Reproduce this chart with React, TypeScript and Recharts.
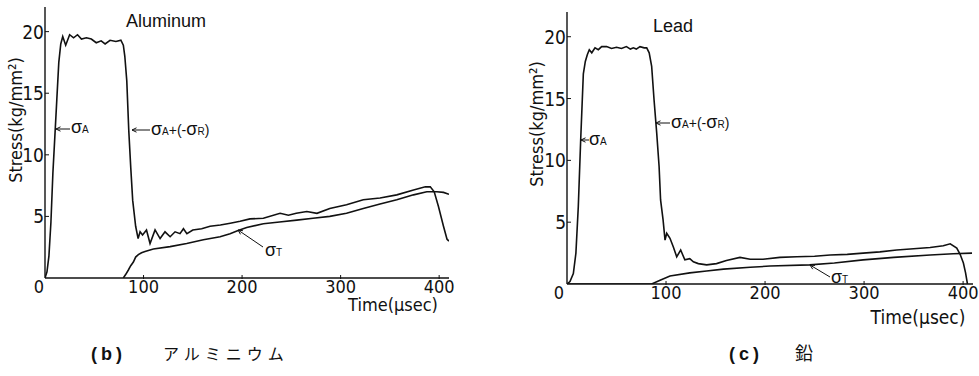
import React from 'react';
import { LineChart, Line, XAxis, YAxis } from 'recharts';

// time axis (usec) and stress axis (kg/mm2) ticks
const timeTicks = [0, 100, 200, 300, 400];
const stressTicks = [5, 10, 15, 20];

// (b) Aluminum: sigma_A + (-sigma_R)
const alUpperTime = [
  0, 2, 4, 6, 8, 10, 12, 14, 16, 18, 21, 25, 29, 33, 37, 42, 47, 52, 57, 61, 66, 72, 77, 79.5, 81, 83, 85, 87,
  89, 92, 94.5, 96.5, 99, 103, 106.6, 111.7, 116.8, 121.8, 127, 132, 137, 140.5, 144, 150, 159, 167.5, 178, 188,
  198, 208, 221.6, 238.6, 247, 255, 265.7, 276, 289, 306, 323, 340, 357, 374, 386, 391, 395, 399.3, 404.4, 408, 410,
];
const alUpperStress = [
  0, 0.5, 1.8, 4.5, 8.5, 11.5, 14.5, 17.5, 19.0, 19.6, 18.9, 19.75, 19.5, 19.75, 19.4, 19.5, 19.4, 19.1, 19.25, 19.0,
  19.3, 19.2, 19.3, 18.9, 18.0, 16.0, 12.0, 9.0, 6.3, 4.2, 3.2, 3.75, 3.5, 3.9, 2.8, 3.9, 3.2, 3.75, 3.35, 3.75,
  3.6, 4.0, 3.6, 3.9, 4.0, 4.2, 4.3, 4.45, 4.6, 4.8, 4.85, 5.25, 5.1, 5.25, 5.4, 5.25, 5.65, 5.95, 6.35, 6.5, 6.75,
  7.15, 7.4, 7.4, 7.0, 5.8, 4.2, 3.15, 3.0,
];

// (b) Aluminum: sigma_T
const alLowerTime = [
  79.5, 82, 84.6, 87, 89.7, 92, 94.7, 98, 101.5, 110, 127, 143.8, 160.7, 177.7, 187.8, 196, 204.7, 221.6, 238,
  255.5, 272, 289, 306, 323, 340, 357, 374, 387.5, 397.6, 404.4, 410,
];
const alLowerStress = [
  0, 0.3, 0.65, 1.0, 1.3, 1.7, 1.9, 2.05, 2.15, 2.35, 2.55, 2.8, 3.1, 3.35, 3.6, 3.85, 4.1, 4.4, 4.55, 4.7, 4.85,
  5.0, 5.25, 5.65, 6.0, 6.35, 6.75, 7.0, 7.0, 6.95, 6.8,
];

// (c) Lead: sigma_A + (-sigma_R)
const pbUpperTime = [
  0, 3, 6.4, 9, 11.4, 13.8, 16.5, 18.5, 20.5, 22.5, 25, 28.3, 31.6, 35, 40, 45, 50, 55, 60, 64, 67, 70, 73.7, 78,
  80.5, 83, 85.5, 87.9, 90.6, 93, 94.5, 97, 99, 100.7, 104, 107.4, 110.8, 114.8, 119, 124, 127.6, 132.6, 141, 151,
  161, 174.7, 185, 198, 215, 232, 250, 265.7, 283, 299, 316, 333, 350, 366.7, 380, 387, 393.6, 397, 400.3, 402.5,
  404.4,
];
const pbUpperStress = [
  0, 0.2, 0.85, 2.5, 6.25, 11.6, 17.0, 18.0, 18.55, 18.95, 18.7, 19.1, 18.95, 19.2, 19.2, 19.05, 19.15, 19.05, 19.2,
  19.0, 19.1, 19.0, 19.2, 19.1, 19.1, 18.7, 17.6, 14.9, 12.2, 9.5, 6.8, 5.2, 3.55, 4.1, 3.7, 3.0, 2.2, 2.75, 1.95,
  2.05, 1.8, 1.65, 1.55, 1.65, 1.9, 2.15, 2.0, 2.0, 2.15, 2.2, 2.25, 2.35, 2.4, 2.5, 2.6, 2.75, 2.85, 2.95, 3.1,
  3.25, 2.9, 2.4, 1.7, 0.9, 0,
];

// (c) Lead: sigma_T
const pbLowerTime = [0, 85.5, 94, 104, 124, 141, 158, 185, 205, 245, 270, 299, 330, 366.7, 390, 409];
const pbLowerStress = [0, 0, 0.3, 0.65, 0.9, 1.05, 1.2, 1.35, 1.45, 1.55, 1.7, 1.95, 2.15, 2.35, 2.45, 2.5];

const zip = (ts: number[], ss: number[]) => ts.map((t, i) => ({ t, s: ss[i] }));

const INK = '#111';
const NUM_FONT = "'Liberation Sans Narrow', 'DejaVu Sans Condensed', 'Liberation Sans', sans-serif";
const TXT_FONT = "'Liberation Sans', Arial, sans-serif";

function TimeTick({ x, y, payload, zeroShift }: any) {
  const v = payload.value;
  return (
    <g>
      {v !== 0 && <line x1={x} x2={x} y1={y - 3} y2={y + 1} stroke={INK} strokeWidth={1} />}
      <text x={v === 0 ? x - zeroShift : x} y={y + 15} textAnchor="middle" fontSize={18} fill={INK} fontFamily={NUM_FONT}>
        {v}
      </text>
    </g>
  );
}

function StressTick({ x, y, payload }: any) {
  return (
    <g>
      <line x1={x} x2={x + 4} y1={y} y2={y} stroke={INK} strokeWidth={1} />
      <text x={x - 1} y={y + 7} textAnchor="end" fontSize={19} fill={INK} fontFamily={NUM_FONT}>
        {payload.value}
      </text>
    </g>
  );
}

interface PanelProps {
  upper: { t: number; s: number }[];
  lower: { t: number; s: number }[];
  width: number;
  yAxisWidth: number;
  margin: { top: number; right: number; bottom: number; left: number };
  zeroShift: number;
}

function Panel({ upper, lower, width, yAxisWidth, margin, zeroShift }: PanelProps) {
  return (
    <LineChart width={width} height={376} margin={margin}>
      <XAxis
        type="number"
        dataKey="t"
        domain={[0, 410]}
        ticks={timeTicks}
        allowDataOverflow
        height={30}
        tickSize={0}
        tickMargin={0}
        axisLine={{ stroke: INK, strokeWidth: 1.4 }}
        tickLine={false}
        tick={<TimeTick zeroShift={zeroShift} />}
        interval={0}
      />
      <YAxis
        type="number"
        dataKey="s"
        domain={[0, 22]}
        ticks={stressTicks}
        allowDataOverflow
        width={yAxisWidth}
        tickSize={0}
        tickMargin={0}
        axisLine={{ stroke: INK, strokeWidth: 1.4 }}
        tickLine={false}
        tick={<StressTick />}
        interval={0}
      />
      <Line data={lower} dataKey="s" type="linear" stroke={INK} strokeWidth={1.6} dot={false} isAnimationActive={false} />
      <Line data={upper} dataKey="s" type="linear" stroke={INK} strokeWidth={1.6} dot={false} isAnimationActive={false} />
    </LineChart>
  );
}

function Arrow({ x1, y1, x2, y2 }: { x1: number; y1: number; x2: number; y2: number }) {
  // arrow from (x1,y1) pointing at (x2,y2)
  const a = Math.atan2(y2 - y1, x2 - x1);
  const h = 5;
  const p1 = [x2 - h * Math.cos(a - 0.45), y2 - h * Math.sin(a - 0.45)];
  const p2 = [x2 - h * Math.cos(a + 0.45), y2 - h * Math.sin(a + 0.45)];
  return (
    <g stroke={INK} strokeWidth={1} fill="none">
      <line x1={x1} y1={y1} x2={x2} y2={y2} />
      <polyline points={`${p1[0]},${p1[1]} ${x2},${y2} ${p2[0]},${p2[1]}`} />
    </g>
  );
}

function Sigma({ x, y, sub }: { x: number; y: number; sub: string }) {
  return (
    <text x={x} y={y} fontSize={18} fill={INK} fontFamily={TXT_FONT}>
      σ<tspan fontSize={10}>{sub}</tspan>
    </text>
  );
}

function SigmaSum({ x, y }: { x: number; y: number }) {
  return (
    <text x={x} y={y} fontSize={18} fill={INK} fontFamily={TXT_FONT}>
      σ<tspan fontSize={10}>A</tspan>
      <tspan fontSize={14}>+(-</tspan>σ<tspan fontSize={10}>R</tspan>
      <tspan fontSize={14}>)</tspan>
    </text>
  );
}

function Overlay() {
  return (
    <svg width={979} height={376} style={{ position: 'absolute', left: 0, top: 0, pointerEvents: 'none' }}>
      {/* (b) Aluminum */}
      <text x={126} y={27} fontSize={18} fill={INK} fontFamily={TXT_FONT}>Aluminum</text>
      <text
        transform="translate(22,120) rotate(-90)"
        textAnchor="middle"
        fontSize={18}
        fill={INK}
        fontFamily={NUM_FONT}
      >
        Stress(kg/mm²)
      </text>
      <text x={393} y={311} textAnchor="middle" fontSize={18} fill={INK} fontFamily={NUM_FONT}>Time(μsec)</text>
      <Arrow x1={70} y1={129} x2={56} y2={129} />
      <Sigma x={71} y={133} sub="A" />
      <Arrow x1={150} y1={130} x2={132} y2={130} />
      <SigmaSum x={151} y={135} />
      <Arrow x1={263} y1={247} x2={238} y2={230} />
      <Sigma x={265} y={256} sub="T" />

      {/* (c) Lead */}
      <text x={653} y={32} fontSize={18} fill={INK} fontFamily={TXT_FONT}>Lead</text>
      <text
        transform="translate(543,124) rotate(-90)"
        textAnchor="middle"
        fontSize={18}
        fill={INK}
        fontFamily={NUM_FONT}
      >
        Stress(kg/mm²)
      </text>
      <text x={918} y={324} textAnchor="middle" fontSize={19} fill={INK} fontFamily={NUM_FONT}>Time(μsec)</text>
      <Arrow x1={589} y1={140} x2={581} y2={140} />
      <Sigma x={589} y={145} sub="A" />
      <Arrow x1={670} y1={123} x2={656} y2={123} />
      <SigmaSum x={671} y={128} />
      <Arrow x1={830} y1={277} x2={810} y2={265} />
      <Sigma x={831} y={283} sub="T" />

      {/* captions */}
      <text x={91} y={360} fontSize={18} fontWeight="bold" fill={INK} fontFamily={TXT_FONT} letterSpacing={4}>(b)</text>
      <text x={163} y={360} fontSize={16} fill={INK} fontFamily="'Noto Sans CJK JP', sans-serif" letterSpacing={5}>
        アルミニウム
      </text>
      <text x={729} y={360} fontSize={18} fontWeight="bold" fill={INK} fontFamily={TXT_FONT} letterSpacing={4}>(c)</text>
      <text x={795} y={360} fontSize={18} fill={INK} fontFamily="'Noto Sans CJK JP', sans-serif">鉛</text>
    </svg>
  );
}

export default function App() {
  const alUpper = zip(alUpperTime, alUpperStress);
  const alLower = zip(alLowerTime, alLowerStress);
  const pbUpper = zip(pbUpperTime, pbUpperStress);
  const pbLower = zip(pbLowerTime, pbLowerStress);

  return (
    <div style={{ position: 'absolute', left: 0, top: 0, width: 979, height: 376, background: '#fff' }}>
      <div style={{ position: 'absolute', left: 0, top: 0 }}>
        <Panel
          upper={alUpper}
          lower={alLower}
          width={500}
          yAxisWidth={45}
          margin={{ top: 7, right: 51, bottom: 68, left: 0 }}
          zeroShift={6}
        />
      </div>
      <div style={{ position: 'absolute', left: 500, top: 0 }}>
        <Panel
          upper={pbUpper}
          lower={pbLower}
          width={479}
          yAxisWidth={67}
          margin={{ top: 12, right: 6, bottom: 62, left: 0 }}
          zeroShift={8}
        />
      </div>
      <Overlay />
    </div>
  );
}
